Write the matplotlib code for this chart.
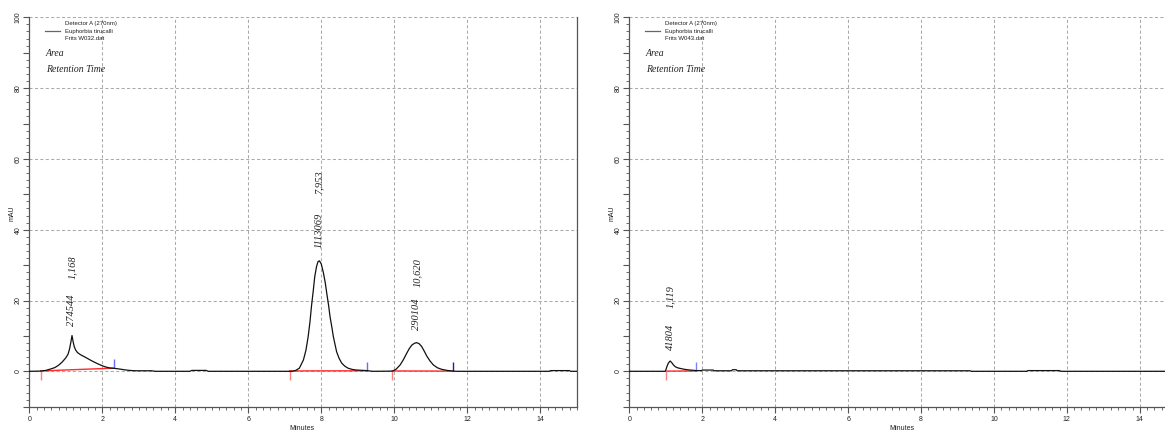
import matplotlib
matplotlib.use("Agg")
import matplotlib.pyplot as plt
from matplotlib.ticker import MultipleLocator, FuncFormatter

# ---------------- data ----------------
# Left chromatogram (Frits W032.dat): time [min], signal [mAU]
left_t = [0.00, 0.30, 0.45, 0.60, 0.70, 0.80, 0.90, 1.00, 1.06, 1.10, 1.14, 1.17,
          1.20, 1.23, 1.27, 1.32, 1.40, 1.53, 1.65, 1.76, 1.88, 1.99, 2.10, 2.20,
          2.36, 2.50, 2.62, 2.75, 2.90, 3.35, 3.45, 4.40, 4.45, 4.85, 4.90, 7.20,
          7.30, 7.40, 7.51, 7.58, 7.64, 7.69, 7.73, 7.78, 7.82, 7.87, 7.91, 7.95,
          8.00, 8.06, 8.11, 8.15, 8.20, 8.24, 8.29, 8.33, 8.38, 8.42, 8.49, 8.56,
          8.65, 8.74, 8.86, 8.97, 9.25, 9.40, 9.95, 10.05, 10.16, 10.25, 10.34,
          10.41, 10.48, 10.55, 10.61, 10.68, 10.75, 10.82, 10.89, 10.98, 11.07,
          11.18, 11.30, 11.45, 11.57, 11.70, 14.25, 14.28, 14.80, 14.83, 15.00]
left_mau = [0.0, 0.05, 0.25, 0.7, 1.05, 1.7, 2.6, 3.8, 4.8, 6.2, 8.3, 10.1,
            8.4, 7.0, 6.0, 5.3, 4.7, 4.0, 3.3, 2.7, 2.1, 1.6, 1.2, 0.95,
            0.8, 0.6, 0.4, 0.25, 0.15, 0.15, 0.0, 0.0, 0.25, 0.25, 0.0, 0.0,
            0.25, 0.9, 3.2, 6.0, 9.8, 14.0, 18.3, 22.8, 26.7, 29.6, 31.0, 31.2,
            30.3, 27.7, 24.9, 22.0, 18.6, 15.4, 12.4, 9.8, 7.4, 5.5, 3.6, 2.3,
            1.4, 0.85, 0.5, 0.35, 0.2, 0.0, 0.05, 0.6, 1.8, 3.3, 5.1,
            6.4, 7.4, 7.9, 8.1, 7.8, 7.0, 5.7, 4.3, 2.9, 1.8,
            1.0, 0.55, 0.25, 0.1, 0.0, 0.0, 0.2, 0.2, 0.0, 0.0]

# Right chromatogram (Frits W043.dat)
right_t = [0.00, 0.98, 1.00, 1.03, 1.07, 1.12, 1.16, 1.21, 1.26, 1.32, 1.40, 1.49,
           1.58, 1.67, 1.84, 1.98, 2.00, 2.30, 2.33, 2.80, 2.83, 2.93, 2.96, 9.34,
           9.38, 10.90, 10.93, 11.80, 11.83, 15.00]
right_mau = [0.0, 0.0, 0.3, 1.3, 2.3, 2.9, 2.5, 1.8, 1.3, 1.0, 0.8, 0.6,
             0.45, 0.35, 0.2, 0.2, 0.35, 0.35, 0.15, 0.15, 0.45, 0.45, 0.15, 0.15,
             0.0, 0.0, 0.2, 0.2, 0.0, 0.0]

# Integrated peaks
left_peak_rt = [1.168, 7.953, 10.620]
left_peak_area = [274544, 1113069, 290104]
left_peak_height = [10.1, 31.2, 8.1]
left_int_start = [0.31, 7.13, 9.94]
left_int_end = [2.33, 9.25, 11.62]
left_base_start = [0.1, 0.1, 0.1]
left_base_end = [0.9, 0.15, 0.05]

right_peak_rt = [1.119]
right_peak_area = [41804]
right_peak_height = [2.9]
right_int_start = [1.00]
right_int_end = [1.84]
right_base_start = [0.05]
right_base_end = [0.1]

x_ticks = [0, 2, 4, 6, 8, 10, 12, 14]
y_ticks = [0, 20, 40, 60, 80, 100]

legend_lines = {"left": ["Detector A (270nm)", "Euphorbia tirucalli", "Frits W032.dat"],
                "right": ["Detector A (270nm)", "Euphorbia tirucalli", "Frits W043.dat"]}

# ---------------- layout / style ----------------
W, H = 1165, 432
fig = plt.figure(figsize=(W / 100, H / 100), dpi=100)

SERIF = ["Liberation Serif", "DejaVu Serif"]
SANS = ["Liberation Sans", "DejaVu Sans"]
GRID_C = "#ababab"
SPINE_C = "#555555"


def fx(px):
    return px / W


def fy(py):
    return 1 - py / H


# offsets (points) of the rotated labels above the peak apex
area_off = [7, 9, 9]
rt_off = [41, 48, 40]
right_area_off = [8]
right_rt_off = [38]


def setup(ax):
    ax.set_xlim(0, 15)
    ax.set_ylim(-10, 100)
    ax.xaxis.set_major_locator(MultipleLocator(2))
    ax.xaxis.set_minor_locator(MultipleLocator(0.2))
    ax.yaxis.set_major_locator(MultipleLocator(10))
    ax.yaxis.set_minor_locator(MultipleLocator(2))
    ax.set_xticks(x_ticks)
    ax.xaxis.set_major_formatter(FuncFormatter(lambda v, p: f"{v:g}"))
    ax.yaxis.set_major_formatter(
        FuncFormatter(lambda v, p: f"{v:g}" if round(v) % 20 == 0 else ""))
    ax.tick_params(axis="x", which="major", direction="out", length=4, width=0.8,
                   colors=SPINE_C, labelsize=5, pad=3, labelcolor="#222222")
    ax.tick_params(axis="x", which="minor", direction="out", length=2.5, width=0.6,
                   colors=SPINE_C)
    ax.tick_params(axis="y", which="major", direction="out", length=4, width=0.8,
                   colors=SPINE_C, labelsize=5, pad=1.5, labelrotation=90,
                   labelcolor="#222222")
    ax.tick_params(axis="y", which="minor", direction="out", length=2, width=0.6,
                   colors=SPINE_C)
    for lab in ax.get_yticklabels():
        lab.set_va("center")
        lab.set_family(SANS)
    for lab in ax.get_xticklabels():
        lab.set_family(SANS)
    for g in x_ticks[1:]:
        ax.axvline(g, color=GRID_C, lw=0.75, ls=(0, (3, 2.2)), zorder=0)
    for g in y_ticks:
        ax.axhline(g, color=GRID_C, lw=0.75, ls=(0, (3, 2.2)), zorder=0)
    ax.spines["top"].set_visible(False)
    for s in ("left", "bottom", "right"):
        ax.spines[s].set_color(SPINE_C)
        ax.spines[s].set_linewidth(0.9)


def draw_panel(ax, t, mau, rts, areas, heights, st, en, bs, be, aoff, roff,
               end_colors):
    setup(ax)
    ax.plot(t, mau, color="#111111", lw=0.9, zorder=3)
    for i in range(len(rts)):
        ax.plot([st[i], en[i]], [bs[i], be[i]], color="#ff2a2a", lw=1.0, zorder=2)
        ax.vlines(st[i], -2.4, bs[i], color="#ff8080", lw=1.0, zorder=2)
        ax.vlines(en[i], be[i], be[i] + 2.5, color=end_colors[i], lw=1.0, zorder=2)
        ax.annotate(f"{areas[i]}", xy=(rts[i], heights[i]), xytext=(0, aoff[i]),
                    textcoords="offset points", rotation=90, ha="center",
                    va="bottom", fontsize=7.5, style="italic", family=SERIF,
                    color="#222222")
        ax.annotate(f"{rts[i]:.3f}".replace(".", ","), xy=(rts[i], heights[i]),
                    xytext=(0, roff[i]), textcoords="offset points", rotation=90,
                    ha="center", va="bottom", fontsize=7.5, style="italic",
                    family=SERIF, color="#222222")


axL = fig.add_axes([fx(29.3), fy(406.7), 547.5 / W, 389.4 / H])
axR = fig.add_axes([fx(629.3), fy(406.7), 547.0 / W, 389.4 / H])

draw_panel(axL, left_t, left_mau, left_peak_rt, left_peak_area, left_peak_height,
           left_int_start, left_int_end, left_base_start, left_base_end,
           area_off, rt_off, ["#6a6aff", "#6a6aff", "#2020a0"])
draw_panel(axR, right_t, right_mau, right_peak_rt, right_peak_area,
           right_peak_height, right_int_start, right_int_end, right_base_start,
           right_base_end, right_area_off, right_rt_off, ["#8080ff"])

# legends and method text
for key, x0 in (("left", 0), ("right", 600)):
    lines = legend_lines[key]
    fig.add_artist(plt.Line2D([fx(45 + x0), fx(60 + x0)], [fy(31), fy(31)],
                              color="#666666", lw=0.9))
    for j, s in enumerate(lines):
        fig.text(fx(65 + x0), fy(24 + 7 * j), s, fontsize=4.3, family=SANS,
                 va="center", ha="left", color="#222222")
    fig.text(fx(46 + x0), fy(54), "Area", fontsize=7, family=SERIF,
             style="italic", va="center", ha="left", color="#222222")
    fig.text(fx(46 + x0), fy(69), "Retention Time", fontsize=7, family=SERIF,
             style="italic", va="center", ha="left", color="#222222")
    fig.text(fx(12 + x0), fy(213), "mAU", fontsize=5, family=SANS, rotation=90,
             va="center", ha="center", color="#222222")
    fig.text(fx(302 + x0), fy(429), "Minutes", fontsize=5, family=SANS,
             va="center", ha="center", color="#222222")

fig.savefig("out.png", dpi=100)
